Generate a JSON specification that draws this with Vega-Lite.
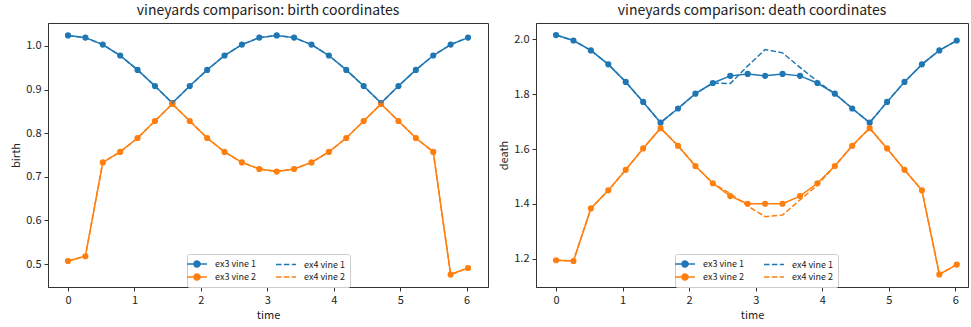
{
  "$schema": "https://vega.github.io/schema/vega-lite/v6.json",
  "padding": {"left": 10, "top": 3, "right": 0, "bottom": 0},
  "datasets": {
    "d": [
      {"time": 0, "series": "ex3 vine 1", "birth": 1.024, "death": 2.016},
      {"time": 0.2618, "series": "ex3 vine 1", "birth": 1.019, "death": 1.996},
      {"time": 0.5236, "series": "ex3 vine 1", "birth": 1.003, "death": 1.96},
      {"time": 0.7854, "series": "ex3 vine 1", "birth": 0.978, "death": 1.909},
      {"time": 1.0472, "series": "ex3 vine 1", "birth": 0.945, "death": 1.845},
      {"time": 1.309, "series": "ex3 vine 1", "birth": 0.908, "death": 1.772},
      {"time": 1.5708, "series": "ex3 vine 1", "birth": 0.869, "death": 1.696},
      {"time": 1.8326, "series": "ex3 vine 1", "birth": 0.908, "death": 1.748},
      {"time": 2.0944, "series": "ex3 vine 1", "birth": 0.945, "death": 1.802},
      {"time": 2.3562, "series": "ex3 vine 1", "birth": 0.978, "death": 1.841},
      {"time": 2.618, "series": "ex3 vine 1", "birth": 1.003, "death": 1.867},
      {"time": 2.8798, "series": "ex3 vine 1", "birth": 1.019, "death": 1.874},
      {"time": 3.1416, "series": "ex3 vine 1", "birth": 1.024, "death": 1.867},
      {"time": 3.4034, "series": "ex3 vine 1", "birth": 1.019, "death": 1.874},
      {"time": 3.6652, "series": "ex3 vine 1", "birth": 1.003, "death": 1.867},
      {"time": 3.927, "series": "ex3 vine 1", "birth": 0.978, "death": 1.841},
      {"time": 4.1888, "series": "ex3 vine 1", "birth": 0.945, "death": 1.802},
      {"time": 4.4506, "series": "ex3 vine 1", "birth": 0.908, "death": 1.748},
      {"time": 4.7124, "series": "ex3 vine 1", "birth": 0.869, "death": 1.696},
      {"time": 4.9742, "series": "ex3 vine 1", "birth": 0.908, "death": 1.772},
      {"time": 5.236, "series": "ex3 vine 1", "birth": 0.945, "death": 1.845},
      {"time": 5.4978, "series": "ex3 vine 1", "birth": 0.978, "death": 1.909},
      {"time": 5.7596, "series": "ex3 vine 1", "birth": 1.003, "death": 1.96},
      {"time": 6.0214, "series": "ex3 vine 1", "birth": 1.019, "death": 1.996},

      {"time": 0, "series": "ex3 vine 2", "birth": 0.507, "death": 1.194},
      {"time": 0.2618, "series": "ex3 vine 2", "birth": 0.518, "death": 1.191},
      {"time": 0.5236, "series": "ex3 vine 2", "birth": 0.733, "death": 1.383},
      {"time": 0.7854, "series": "ex3 vine 2", "birth": 0.757, "death": 1.449},
      {"time": 1.0472, "series": "ex3 vine 2", "birth": 0.789, "death": 1.524},
      {"time": 1.309, "series": "ex3 vine 2", "birth": 0.828, "death": 1.602},
      {"time": 1.5708, "series": "ex3 vine 2", "birth": 0.867, "death": 1.676},
      {"time": 1.8326, "series": "ex3 vine 2", "birth": 0.828, "death": 1.612},
      {"time": 2.0944, "series": "ex3 vine 2", "birth": 0.789, "death": 1.538},
      {"time": 2.3562, "series": "ex3 vine 2", "birth": 0.757, "death": 1.475},
      {"time": 2.618, "series": "ex3 vine 2", "birth": 0.733, "death": 1.428},
      {"time": 2.8798, "series": "ex3 vine 2", "birth": 0.718, "death": 1.4},
      {"time": 3.1416, "series": "ex3 vine 2", "birth": 0.712, "death": 1.4},
      {"time": 3.4034, "series": "ex3 vine 2", "birth": 0.718, "death": 1.4},
      {"time": 3.6652, "series": "ex3 vine 2", "birth": 0.733, "death": 1.428},
      {"time": 3.927, "series": "ex3 vine 2", "birth": 0.757, "death": 1.475},
      {"time": 4.1888, "series": "ex3 vine 2", "birth": 0.789, "death": 1.538},
      {"time": 4.4506, "series": "ex3 vine 2", "birth": 0.828, "death": 1.612},
      {"time": 4.7124, "series": "ex3 vine 2", "birth": 0.867, "death": 1.676},
      {"time": 4.9742, "series": "ex3 vine 2", "birth": 0.828, "death": 1.602},
      {"time": 5.236, "series": "ex3 vine 2", "birth": 0.789, "death": 1.524},
      {"time": 5.4978, "series": "ex3 vine 2", "birth": 0.757, "death": 1.449},
      {"time": 5.7596, "series": "ex3 vine 2", "birth": 0.476, "death": 1.142},
      {"time": 6.0214, "series": "ex3 vine 2", "birth": 0.491, "death": 1.178},

      {"time": 0, "series": "ex4 vine 1", "birth": 1.024, "death": 2.016},
      {"time": 0.2618, "series": "ex4 vine 1", "birth": 1.019, "death": 1.996},
      {"time": 0.5236, "series": "ex4 vine 1", "birth": 1.003, "death": 1.96},
      {"time": 0.7854, "series": "ex4 vine 1", "birth": 0.978, "death": 1.909},
      {"time": 1.0472, "series": "ex4 vine 1", "birth": 0.945, "death": 1.845},
      {"time": 1.309, "series": "ex4 vine 1", "birth": 0.908, "death": 1.772},
      {"time": 1.5708, "series": "ex4 vine 1", "birth": 0.869, "death": 1.696},
      {"time": 1.8326, "series": "ex4 vine 1", "birth": 0.908, "death": 1.748},
      {"time": 2.0944, "series": "ex4 vine 1", "birth": 0.945, "death": 1.802},
      {"time": 2.3562, "series": "ex4 vine 1", "birth": 0.978, "death": 1.841},
      {"time": 2.618, "series": "ex4 vine 1", "birth": 1.003, "death": 1.839},
      {"time": 2.8798, "series": "ex4 vine 1", "birth": 1.019, "death": 1.903},
      {"time": 3.1416, "series": "ex4 vine 1", "birth": 1.024, "death": 1.963},
      {"time": 3.4034, "series": "ex4 vine 1", "birth": 1.019, "death": 1.951},
      {"time": 3.6652, "series": "ex4 vine 1", "birth": 1.003, "death": 1.898},
      {"time": 3.927, "series": "ex4 vine 1", "birth": 0.978, "death": 1.847},
      {"time": 4.1888, "series": "ex4 vine 1", "birth": 0.945, "death": 1.802},
      {"time": 4.4506, "series": "ex4 vine 1", "birth": 0.908, "death": 1.748},
      {"time": 4.7124, "series": "ex4 vine 1", "birth": 0.869, "death": 1.696},
      {"time": 4.9742, "series": "ex4 vine 1", "birth": 0.908, "death": 1.772},
      {"time": 5.236, "series": "ex4 vine 1", "birth": 0.945, "death": 1.845},
      {"time": 5.4978, "series": "ex4 vine 1", "birth": 0.978, "death": 1.909},
      {"time": 5.7596, "series": "ex4 vine 1", "birth": 1.003, "death": 1.96},
      {"time": 6.0214, "series": "ex4 vine 1", "birth": 1.019, "death": 1.996},

      {"time": 0, "series": "ex4 vine 2", "birth": 0.507, "death": 1.194},
      {"time": 0.2618, "series": "ex4 vine 2", "birth": 0.518, "death": 1.191},
      {"time": 0.5236, "series": "ex4 vine 2", "birth": 0.733, "death": 1.383},
      {"time": 0.7854, "series": "ex4 vine 2", "birth": 0.757, "death": 1.449},
      {"time": 1.0472, "series": "ex4 vine 2", "birth": 0.789, "death": 1.524},
      {"time": 1.309, "series": "ex4 vine 2", "birth": 0.828, "death": 1.602},
      {"time": 1.5708, "series": "ex4 vine 2", "birth": 0.867, "death": 1.676},
      {"time": 1.8326, "series": "ex4 vine 2", "birth": 0.828, "death": 1.612},
      {"time": 2.0944, "series": "ex4 vine 2", "birth": 0.789, "death": 1.538},
      {"time": 2.3562, "series": "ex4 vine 2", "birth": 0.757, "death": 1.475},
      {"time": 2.618, "series": "ex4 vine 2", "birth": 0.733, "death": 1.437},
      {"time": 2.8798, "series": "ex4 vine 2", "birth": 0.718, "death": 1.392},
      {"time": 3.1416, "series": "ex4 vine 2", "birth": 0.712, "death": 1.353},
      {"time": 3.4034, "series": "ex4 vine 2", "birth": 0.718, "death": 1.359},
      {"time": 3.6652, "series": "ex4 vine 2", "birth": 0.733, "death": 1.414},
      {"time": 3.927, "series": "ex4 vine 2", "birth": 0.757, "death": 1.468},
      {"time": 4.1888, "series": "ex4 vine 2", "birth": 0.789, "death": 1.538},
      {"time": 4.4506, "series": "ex4 vine 2", "birth": 0.828, "death": 1.612},
      {"time": 4.7124, "series": "ex4 vine 2", "birth": 0.867, "death": 1.676},
      {"time": 4.9742, "series": "ex4 vine 2", "birth": 0.828, "death": 1.602},
      {"time": 5.236, "series": "ex4 vine 2", "birth": 0.789, "death": 1.524},
      {"time": 5.4978, "series": "ex4 vine 2", "birth": 0.757, "death": 1.449},
      {"time": 5.7596, "series": "ex4 vine 2", "birth": 0.476, "death": 1.142},
      {"time": 6.0214, "series": "ex4 vine 2", "birth": 0.491, "death": 1.178}
    ]
  },
  "spacing": 9,
  "resolve": {"scale": {"color": "independent", "x": "independent", "y": "independent"}, "legend": {"color": "independent"}},
  "hconcat": [
    {
      "width": 440,
      "height": 264,
      "title": "vineyards comparison: birth coordinates",
      "data": {"name": "d"},
      "encoding": {
        "x": {"field": "time", "type": "quantitative", "scale": {"domain": [-0.301, 6.322], "nice": false, "zero": false}, "axis": {"values": [0, 1, 2, 3, 4, 5, 6], "format": "d", "title": "time"}},
        "y": {"field": "birth", "type": "quantitative", "scale": {"domain": [0.4475, 1.0525], "nice": false, "zero": false}, "axis": {"values": [0.5, 0.6, 0.7, 0.8, 0.9, 1.0], "format": ".1f", "title": "birth"}},
        "color": {
          "field": "series", "type": "nominal",
          "scale": {"domain": ["ex3 vine 1", "ex3 vine 2", "ex4 vine 1", "ex4 vine 2"], "range": ["#1f77b4", "#ff7f0e", "#1f77b4", "#ff7f0e"]},
          "legend": {
            "title": null, "orient": "none", "legendX": 139, "legendY": 231, "columns": 2,
            "labelFontSize": 9, "labelColor": "#222", "symbolSize": 100, "symbolStrokeWidth": 1.5,
            "columnPadding": 16, "rowPadding": 1, "padding": 4, "labelOffset": 12,
            "strokeColor": "#cccccc", "fillColor": "rgba(255,255,255,0.8)", "cornerRadius": 2,
            "encode": {"symbols": {"update": {
              "shape": {"signal": "indexof(datum.value,'ex3')==0 ? 'M-2,0H2M-0.6,0A0.6,0.6 0 1,0 0.6,0A0.6,0.6 0 1,0 -0.6,0' : 'M-2,0H2'"},
              "fill": {"signal": "indexof(datum.value,'ex3')==0 ? (indexof(datum.value,'vine 1')>0 ? '#1f77b4' : '#ff7f0e') : 'transparent'"},
              "stroke": {"signal": "indexof(datum.value,'vine 1')>0 ? '#1f77b4' : '#ff7f0e'"},
              "strokeDash": {"signal": "indexof(datum.value,'ex4')==0 ? [5.5,2.4] : [1,0]"},
              "strokeWidth": {"value": 1.5},
              "opacity": {"value": 1}
            }}}
          }
        }
      },
      "layer": [
        {"transform": [{"filter": "indexof(datum.series,'ex3')==0"}], "mark": {"type": "line", "strokeWidth": 1.5}},
        {"transform": [{"filter": "indexof(datum.series,'ex3')==0"}], "mark": {"type": "point", "filled": true, "opacity": 1, "size": 38, "shape": "circle"}},
        {"transform": [{"filter": "indexof(datum.series,'ex4')==0"}], "mark": {"type": "line", "strokeWidth": 1.5, "strokeDash": [5.5, 2.4]}}
      ]
    },
    {
      "width": 432,
      "height": 264,
      "title": "vineyards comparison: death coordinates",
      "data": {"name": "d"},
      "encoding": {
        "x": {"field": "time", "type": "quantitative", "scale": {"domain": [-0.301, 6.19], "nice": false, "zero": false}, "axis": {"values": [0, 1, 2, 3, 4, 5, 6], "format": "d", "title": "time"}},
        "y": {"field": "death", "type": "quantitative", "scale": {"domain": [1.0962, 2.06], "nice": false, "zero": false}, "axis": {"values": [1.2, 1.4, 1.6, 1.8, 2.0], "format": ".1f", "title": "death"}},
        "color": {
          "field": "series", "type": "nominal",
          "scale": {"domain": ["ex3 vine 1", "ex3 vine 2", "ex4 vine 1", "ex4 vine 2"], "range": ["#1f77b4", "#ff7f0e", "#1f77b4", "#ff7f0e"]},
          "legend": {
            "title": null, "orient": "none", "legendX": 139, "legendY": 231, "columns": 2,
            "labelFontSize": 9, "labelColor": "#222", "symbolSize": 100, "symbolStrokeWidth": 1.5,
            "columnPadding": 16, "rowPadding": 1, "padding": 4, "labelOffset": 12,
            "strokeColor": "#cccccc", "fillColor": "rgba(255,255,255,0.8)", "cornerRadius": 2,
            "encode": {"symbols": {"update": {
              "shape": {"signal": "indexof(datum.value,'ex3')==0 ? 'M-2,0H2M-0.6,0A0.6,0.6 0 1,0 0.6,0A0.6,0.6 0 1,0 -0.6,0' : 'M-2,0H2'"},
              "fill": {"signal": "indexof(datum.value,'ex3')==0 ? (indexof(datum.value,'vine 1')>0 ? '#1f77b4' : '#ff7f0e') : 'transparent'"},
              "stroke": {"signal": "indexof(datum.value,'vine 1')>0 ? '#1f77b4' : '#ff7f0e'"},
              "strokeDash": {"signal": "indexof(datum.value,'ex4')==0 ? [5.5,2.4] : [1,0]"},
              "strokeWidth": {"value": 1.5},
              "opacity": {"value": 1}
            }}}
          }
        }
      },
      "layer": [
        {"transform": [{"filter": "indexof(datum.series,'ex3')==0"}], "mark": {"type": "line", "strokeWidth": 1.5}},
        {"transform": [{"filter": "indexof(datum.series,'ex3')==0"}], "mark": {"type": "point", "filled": true, "opacity": 1, "size": 38, "shape": "circle"}},
        {"transform": [{"filter": "indexof(datum.series,'ex4')==0"}], "mark": {"type": "line", "strokeWidth": 1.5, "strokeDash": [5.5, 2.4]}}
      ]
    }
  ],
  "config": {
    "font": "Noto Sans CJK JP",
    "view": {"stroke": "#333333", "strokeWidth": 1},
    "axis": {"grid": false, "domainColor": "#333333", "tickColor": "#333333", "labelColor": "#222222", "titleColor": "#222222", "labelFontSize": 11, "titleFontSize": 11, "titleFontWeight": "normal", "tickSize": 4, "labelPadding": 3, "titlePadding": 4},
    "title": {"fontSize": 14, "fontWeight": "normal", "color": "#222222", "offset": 5}
  }
}
